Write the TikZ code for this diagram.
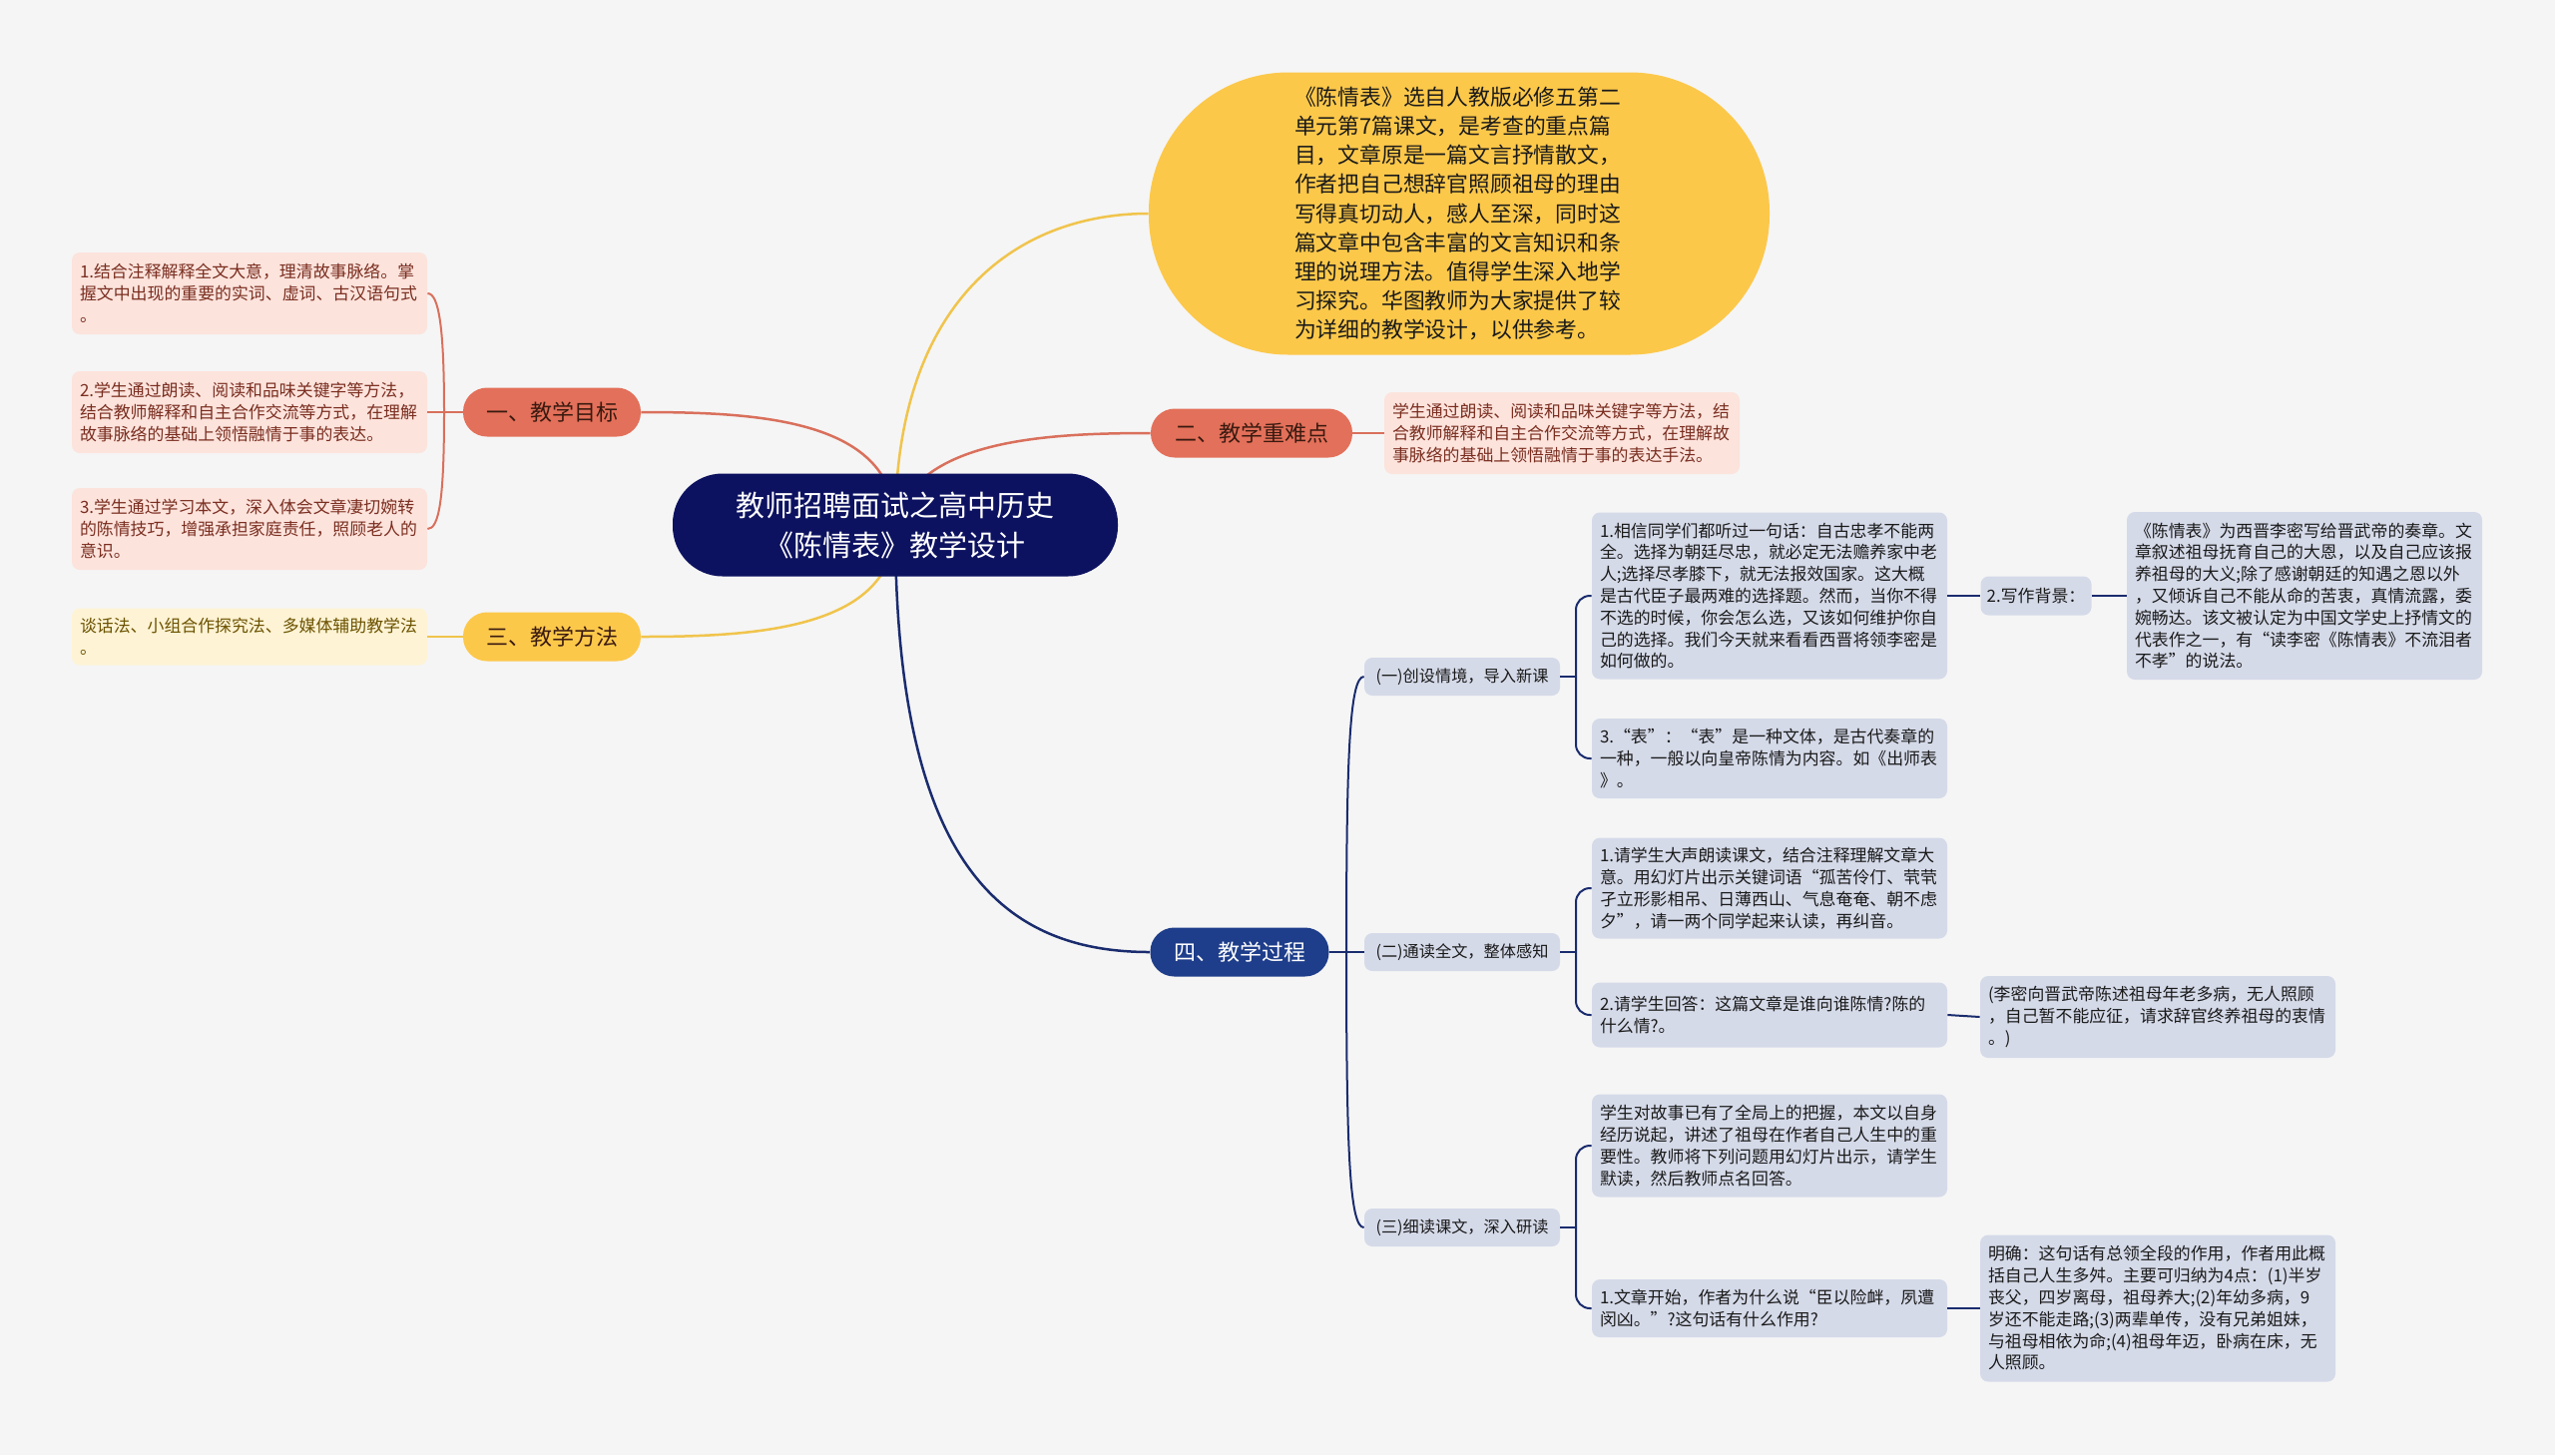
\documentclass[tikz,border=0pt]{standalone}
\usepackage{fontspec}
\setmainfont{Noto Sans CJK SC}
\definecolor{bgc}{HTML}{F5F5F5}
\definecolor{rootc}{HTML}{0D1260}
\definecolor{navyc}{HTML}{1E3D8A}
\definecolor{navyline}{HTML}{1A2C6E}
\definecolor{salmonc}{HTML}{E3705A}
\definecolor{salmonline}{HTML}{D9705C}
\definecolor{yellowc}{HTML}{FCC84A}
\definecolor{yellowline}{HTML}{F0C44C}
\definecolor{pinkfill}{HTML}{FCE3DC}
\definecolor{pinktext}{HTML}{7A2E20}
\definecolor{yfill}{HTML}{FEF3D4}
\definecolor{ytext}{HTML}{6B5200}
\definecolor{gfill}{HTML}{D5DAE9}
\definecolor{gtext}{HTML}{1A1A1A}
\definecolor{darktext}{HTML}{3A1A10}
\tikzset{
  rootbox/.style={fill=rootc, text=white, rounded corners=25pt, minimum width=223pt, minimum height=51.5pt, align=center, font=\fontsize{14.5}{20}\selectfont, inner sep=0pt},
  bigbox/.style={fill=yellowc, text=gtext, rounded corners=70pt, minimum width=311pt, minimum height=141.5pt, align=left, text width=165pt, font=\fontsize{10.9}{14.6}\selectfont, inner sep=0pt},
  branchbox/.style={rounded corners=12pt, minimum width=89pt, minimum height=24.5pt, font=\fontsize{11}{13}\selectfont, inner sep=0pt},
  leafbox/.style={rounded corners=4pt, inner xsep=4pt, inner ysep=0pt, text width=170pt, align=left, font=\fontsize{8.45}{10.9}\selectfont},
  pinkleaf/.style={leafbox, fill=pinkfill, text=pinktext},
  yleaf/.style={leafbox, fill=yfill, text=ytext},
  gleaf/.style={leafbox, fill=gfill, text=gtext},
  subbox/.style={fill=gfill, text=gtext, rounded corners=4pt, minimum width=98pt, minimum height=19pt, inner sep=0pt, font=\fontsize{8.1}{10}\selectfont},
  mainline/.style={line width=1.25pt},
  subline/.style={line width=1pt},
}
\begin{document}
\begin{tikzpicture}[x=0.5pt,y=-0.5pt]
\fill[bgc] (0,0) rectangle (2560,1458);
\useasboundingbox (0,0) rectangle (2560,1458);

% ---------- nodes ----------
\node[bigbox] (big) at (1462,214) {《陈情表》选自人教版必修五第二\\单元第7篇课文，是考查的重点篇\\目，文章原是一篇文言抒情散文，\\作者把自己想辞官照顾祖母的理由\\写得真切动人，感人至深，同时这\\篇文章中包含丰富的文言知识和条\\理的说理方法。值得学生深入地学\\习探究。华图教师为大家提供了较\\为详细的教学设计，以供参考。};

\node[branchbox, fill=salmonc, text=darktext] (b1) at (553,413) {一、教学目标};
\node[branchbox, fill=salmonc, text=darktext, minimum width=101pt] (b2) at (1254,434) {二、教学重难点};
\node[branchbox, fill=yellowc, text=darktext] (b3) at (553,638) {三、教学方法};
\node[branchbox, fill=navyc, text=white, minimum width=89.5pt] (b4) at (1242,954) {四、教学过程};

\node[pinkleaf, minimum height=41pt] (l1) at (250,294) {1.结合注释解释全文大意，理清故事脉络。掌\\握文中出现的重要的实词、虚词、古汉语句式\\。};
\node[pinkleaf, minimum height=41pt] (l2) at (250,413) {2.学生通过朗读、阅读和品味关键字等方法，\\结合教师解释和自主合作交流等方式，在理解\\故事脉络的基础上领悟融情于事的表达。};
\node[pinkleaf, minimum height=41pt] (l3) at (250,530) {3.学生通过学习本文，深入体会文章凄切婉转\\的陈情技巧，增强承担家庭责任，照顾老人的\\意识。};
\node[yleaf, minimum height=28.5pt] (l4) at (250,638) {谈话法、小组合作探究法、多媒体辅助教学法\\。};
\node[pinkleaf, minimum height=41pt] (l5) at (1565,434) {学生通过朗读、阅读和品味关键字等方法，结\\合教师解释和自主合作交流等方式，在理解故\\事脉络的基础上领悟融情于事的表达手法。};

\node[subbox] (s1) at (1465,678) {(一)创设情境，导入新课};
\node[subbox] (s2) at (1465,954) {(二)通读全文，整体感知};
\node[subbox] (s3) at (1465,1230) {(三)细读课文，深入研读};

\node[gleaf, minimum height=83.5pt] (t1) at (1773,597) {1.相信同学们都听过一句话：自古忠孝不能两\\全。选择为朝廷尽忠，就必定无法赡养家中老\\人;选择尽孝膝下，就无法报效国家。这大概\\是古代臣子最两难的选择题。然而，当你不得\\不选的时候，你会怎么选，又该如何维护你自\\己的选择。我们今天就来看看西晋将领李密是\\如何做的。};
\node[gleaf, minimum height=40pt] (t2) at (1773,760) {3.“表”：“表”是一种文体，是古代奏章的\\一种，一般以向皇帝陈情为内容。如《出师表\\》。};
\node[subbox, minimum width=55.5pt, minimum height=19.5pt, font=\fontsize{8.45}{10}\selectfont] (t3) at (2040,597) {2.写作背景：};
\node[gleaf, minimum height=84pt] (t4) at (2309,597) {《陈情表》为西晋李密写给晋武帝的奏章。文\\章叙述祖母抚育自己的大恩，以及自己应该报\\养祖母的大义;除了感谢朝廷的知遇之恩以外\\，又倾诉自己不能从命的苦衷，真情流露，委\\婉畅达。该文被认定为中国文学史上抒情文的\\代表作之一，有“读李密《陈情表》不流泪者\\不孝”的说法。};

\node[gleaf, minimum height=50.5pt] (u1) at (1773,890) {1.请学生大声朗读课文，结合注释理解文章大\\意。用幻灯片出示关键词语“孤苦伶仃、茕茕\\孑立形影相吊、日薄西山、气息奄奄、朝不虑\\夕”，请一两个同学起来认读，再纠音。};
\node[gleaf, minimum height=32.5pt] (u2) at (1773,1017) {2.请学生回答：这篇文章是谁向谁陈情?陈的\\什么情?。};
\node[gleaf, minimum height=41pt] (u3) at (2162,1019) {(李密向晋武帝陈述祖母年老多病，无人照顾\\，自己暂不能应征，请求辞官终养祖母的衷情\\。)};

\node[gleaf, minimum height=51.5pt] (v1) at (1773,1148) {学生对故事已有了全局上的把握，本文以自身\\经历说起，讲述了祖母在作者自己人生中的重\\要性。教师将下列问题用幻灯片出示，请学生\\默读，然后教师点名回答。};
\node[gleaf, minimum height=29pt] (v2) at (1773,1311) {1.文章开始，作者为什么说“臣以险衅，夙遭\\闵凶。”?这句话有什么作用?};
\node[gleaf, minimum height=73.5pt] (v3) at (2162,1311) {明确：这句话有总领全段的作用，作者用此概\\括自己人生多舛。主要可归纳为4点：(1)半岁\\丧父，四岁离母，祖母养大;(2)年幼多病，9\\岁还不能走路;(3)两辈单传，没有兄弟姐妹，\\与祖母相依为命;(4)祖母年迈，卧病在床，无\\人照顾。};

% ---------- connectors ----------
\coordinate (rc) at (897,526);
\coordinate (j1) at (445,413);
\coordinate (j4) at (1349,954);
\coordinate (js1) at (1579,678);
\coordinate (js2) at (1579,954);
\coordinate (js3) at (1579,1230);

% root curves (drawn before the root node, which covers their start)
\draw[mainline, salmonline] (rc) .. controls (897,420) and (760,413) .. (b1.east);
\draw[mainline, yellowline] (rc) .. controls (897,300) and (1020,214) .. (big.west);
\draw[mainline, salmonline] (rc) .. controls (915,440) and (1050,434) .. (b2.west);
\draw[mainline, yellowline] (rc) .. controls (897,630) and (760,638) .. (b3.east);
\draw[mainline, navyline] (rc) .. controls (897,860) and (1000,954) .. (b4.west);
\node[rootbox] (root) at (897,526) {教师招聘面试之高中历史\\《陈情表》教学设计};

% branch 1
\draw[subline, salmonline] (b1.west) -- (j1);
\draw[subline, salmonline] (j1) .. controls (445,330) and (440,294) .. (l1.east);
\draw[subline, salmonline] (j1) -- (l2.east);
\draw[subline, salmonline] (j1) .. controls (445,500) and (440,530) .. (l3.east);
% branch 2, 3
\draw[subline, salmonline] (b2.east) -- (l5.west);
\draw[subline, yellowline] (b3.west) -- (l4.east);
% branch 4
\draw[subline, navyline] (b4.east) -- (j4);
\draw[subline, navyline] (j4) .. controls (1349,760) and (1352,678) .. (s1.west);
\draw[subline, navyline] (j4) -- (s2.west);
\draw[subline, navyline] (j4) .. controls (1349,1150) and (1352,1230) .. (s3.west);
% level 3
\draw[subline, navyline] (s1.east) -- (js1);
\draw[subline, navyline, rounded corners=7pt] (js1) |- (t1.west);
\draw[subline, navyline, rounded corners=7pt] (js1) |- (t2.west);
\draw[subline, navyline] (t1.east) -- (t3.west);
\draw[subline, navyline] (t3.east) -- (t4.west);
\draw[subline, navyline] (s2.east) -- (js2);
\draw[subline, navyline, rounded corners=7pt] (js2) |- (u1.west);
\draw[subline, navyline, rounded corners=7pt] (js2) |- (u2.west);
\draw[subline, navyline] (u2.east) -- (u3.west);
\draw[subline, navyline] (s3.east) -- (js3);
\draw[subline, navyline, rounded corners=7pt] (js3) |- (v1.west);
\draw[subline, navyline, rounded corners=7pt] (js3) |- (v2.west);
\draw[subline, navyline] (v2.east) -- (v3.west);
\end{tikzpicture}
\end{document}
